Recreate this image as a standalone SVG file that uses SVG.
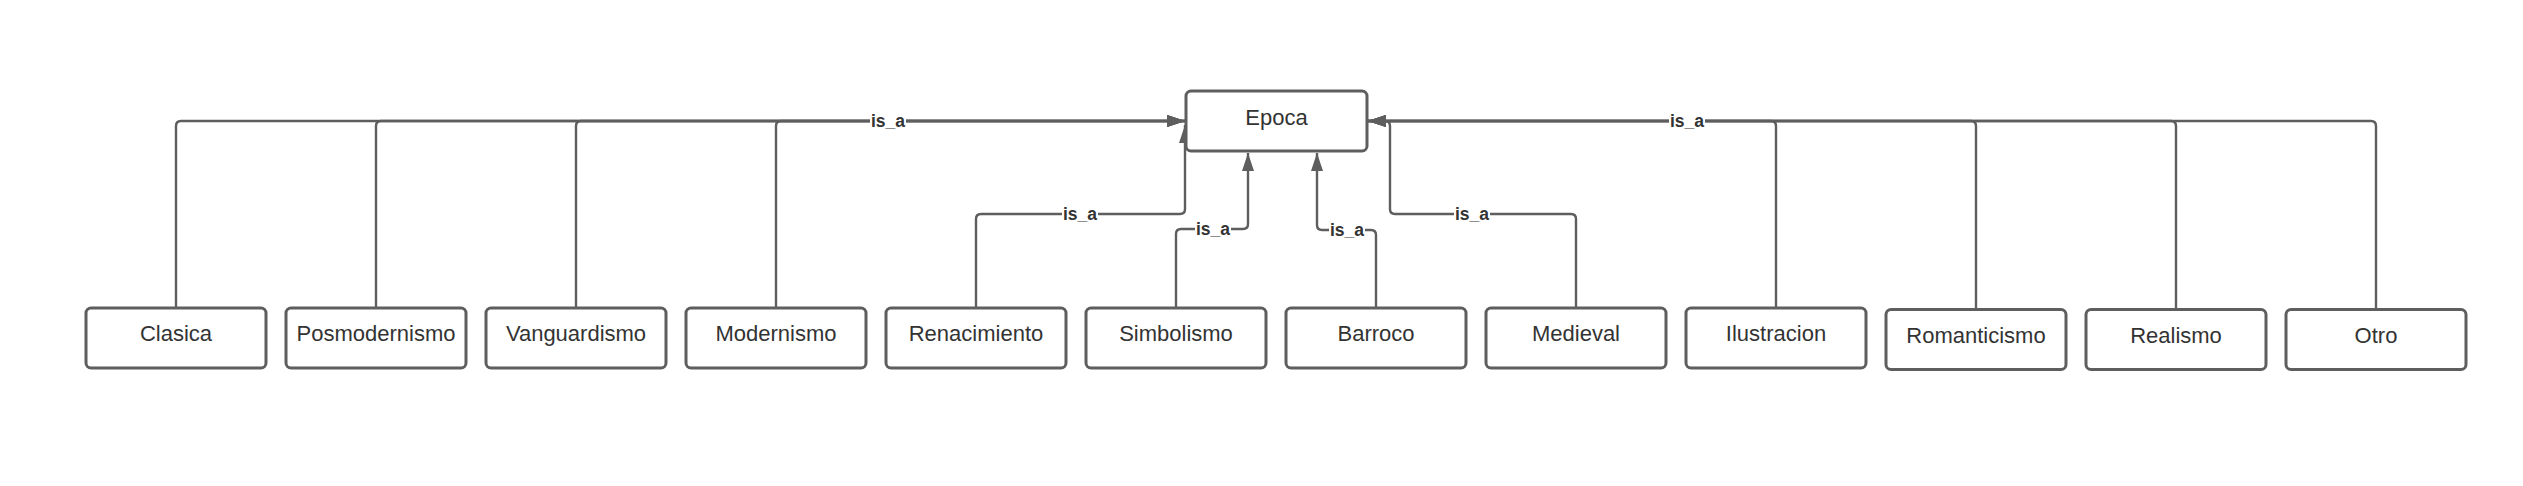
<svg xmlns="http://www.w3.org/2000/svg" width="2523" height="486" viewBox="0 0 2523 486">
<style>
.box{fill:#ffffff;stroke:#5e5e5e;stroke-width:3}
.lbl{font-family:"Liberation Sans",Arial,sans-serif;font-size:22px;fill:#333333;text-anchor:middle}
.con{fill:none;stroke:#5e5e5e;stroke-width:2.4;marker-end:url(#arr)}
.isa{font-family:"Liberation Sans",Arial,sans-serif;font-size:17.5px;font-weight:bold;fill:#333333;text-anchor:middle}
.bg{fill:#ffffff}
</style>
<defs>
<marker id="arr" viewBox="0 0 18 12" refX="18" refY="6" markerWidth="18" markerHeight="12" markerUnits="userSpaceOnUse" orient="auto">
<path d="M0,0 L18,6 L0,12 Z" fill="#5e5e5e"/>
</marker>
</defs>
<rect width="2523" height="486" fill="#ffffff"/>
<g id="connectors">
<path class="con" d="M176,308 V126 Q176,121 181,121 H1185"/>
<path class="con" d="M376,308 V126 Q376,121 381,121 H1185"/>
<path class="con" d="M576,308 V126 Q576,121 581,121 H1185"/>
<path class="con" d="M776,308 V126 Q776,121 781,121 H1185"/>
<path class="con" d="M976,308 V219 Q976,214 981,214 H1180 Q1185,214 1185,209 V125"/>
<path class="con" d="M1176,308 V234 Q1176,229 1181,229 H1243 Q1248,229 1248,224 V153"/>
<path class="con" d="M1376,308 V235 Q1376,230 1371,230 H1322 Q1317,230 1317,225 V153"/>
<path class="con" d="M1576,308 V219 Q1576,214 1571,214 H1395 Q1390,214 1390,209 V126 Q1390,121 1385,121 H1368"/>
<path class="con" d="M1776,308 V126 Q1776,121 1771,121 H1368"/>
<path class="con" d="M1976,309.5 V126 Q1976,121 1971,121 H1368"/>
<path class="con" d="M2176,309.5 V126 Q2176,121 2171,121 H1368"/>
<path class="con" d="M2376,309.5 V126 Q2376,121 2371,121 H1368"/>
<rect class="bg" x="870" y="112" width="36" height="18"/>
<text class="isa" x="888" y="127">is_a</text>
<rect class="bg" x="1062" y="205" width="36" height="18"/>
<text class="isa" x="1080" y="220">is_a</text>
<rect class="bg" x="1195" y="220" width="36" height="18"/>
<text class="isa" x="1213" y="235">is_a</text>
<rect class="bg" x="1329" y="221" width="36" height="18"/>
<text class="isa" x="1347" y="236">is_a</text>
<rect class="bg" x="1454" y="205" width="36" height="18"/>
<text class="isa" x="1472" y="220">is_a</text>
<rect class="bg" x="1669" y="112" width="36" height="18"/>
<text class="isa" x="1687" y="127">is_a</text>
</g>
<g id="epoca"><rect class="box" x="1186" y="91" width="181" height="60" rx="5"/><text class="lbl" x="1276.5" y="125">Epoca</text></g>
<g id="clasica"><rect class="box" x="86" y="308" width="180" height="60" rx="5"/><text class="lbl" x="176" y="341">Clasica</text></g>
<g id="posmodernismo"><rect class="box" x="286" y="308" width="180" height="60" rx="5"/><text class="lbl" x="376" y="341">Posmodernismo</text></g>
<g id="vanguardismo"><rect class="box" x="486" y="308" width="180" height="60" rx="5"/><text class="lbl" x="576" y="341">Vanguardismo</text></g>
<g id="modernismo"><rect class="box" x="686" y="308" width="180" height="60" rx="5"/><text class="lbl" x="776" y="341">Modernismo</text></g>
<g id="renacimiento"><rect class="box" x="886" y="308" width="180" height="60" rx="5"/><text class="lbl" x="976" y="341">Renacimiento</text></g>
<g id="simbolismo"><rect class="box" x="1086" y="308" width="180" height="60" rx="5"/><text class="lbl" x="1176" y="341">Simbolismo</text></g>
<g id="barroco"><rect class="box" x="1286" y="308" width="180" height="60" rx="5"/><text class="lbl" x="1376" y="341">Barroco</text></g>
<g id="medieval"><rect class="box" x="1486" y="308" width="180" height="60" rx="5"/><text class="lbl" x="1576" y="341">Medieval</text></g>
<g id="ilustracion"><rect class="box" x="1686" y="308" width="180" height="60" rx="5"/><text class="lbl" x="1776" y="341">Ilustracion</text></g>
<g id="romanticismo"><rect class="box" x="1886" y="309.5" width="180" height="60" rx="5"/><text class="lbl" x="1976" y="342.5">Romanticismo</text></g>
<g id="realismo"><rect class="box" x="2086" y="309.5" width="180" height="60" rx="5"/><text class="lbl" x="2176" y="342.5">Realismo</text></g>
<g id="otro"><rect class="box" x="2286" y="309.5" width="180" height="60" rx="5"/><text class="lbl" x="2376" y="342.5">Otro</text></g>
</svg>
